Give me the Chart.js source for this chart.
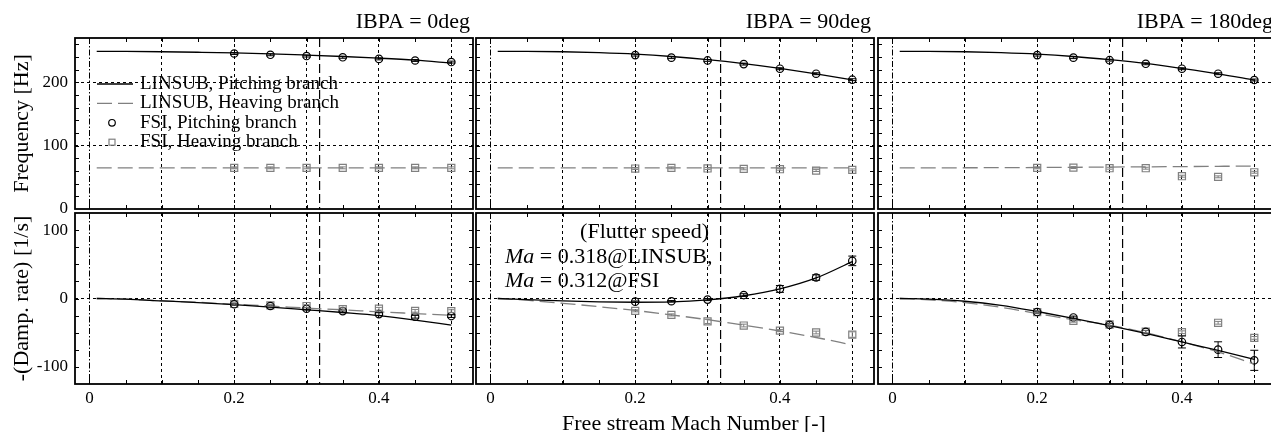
<!DOCTYPE html>
<html>
<head>
<meta charset="utf-8">
<script src="https://cdn.jsdelivr.net/npm/chart.js@4.4.0/dist/chart.umd.min.js"></script>
<style>
  html, body { margin: 0; padding: 0; background: #fff; overflow: hidden; }
  #wrap { position: relative; width: 1271px; height: 432px; overflow: hidden; }
  #wrap canvas { position: absolute; left: 0; top: 0; }
</style>
</head>
<body>
<div id="wrap">
  <canvas id="f0"></canvas>
  <canvas id="f90"></canvas>
  <canvas id="f180"></canvas>
  <canvas id="d0"></canvas>
  <canvas id="d90"></canvas>
  <canvas id="d180"></canvas>
</div>
<script>
// Mach numbers
const machLin = [0.01, 0.05, 0.1, 0.15, 0.2, 0.25, 0.3, 0.35, 0.4, 0.45, 0.5];
const machFsi = [0.2, 0.25, 0.3, 0.35, 0.4, 0.45, 0.5];
const flutterMach = 0.318;

// ticks
const xTicks = [0, 0.1, 0.2, 0.3, 0.4, 0.5];
const xTickLabels = ['0', '', '0.2', '', '0.4', ''];
const xMinor = [0, 0.05, 0.1, 0.15, 0.2, 0.25, 0.3, 0.35, 0.4, 0.45, 0.5];
const freqTicks = [0, 100, 200];
const freqTickLabels = ['0', '100', '200'];
const freqMinor = [20, 40, 60, 80, 100, 120, 140, 160, 180, 200, 220, 240, 260];
const dampTicks = [-100, 0, 100];
const dampTickLabels = ['-100', '0', '100'];
const dampMinor = [-100, -75, -50, -25, 0, 25, 50, 75, 100];

const ibpaTitles = ['IBPA = 0deg', 'IBPA = 90deg', 'IBPA = 180deg'];
const seriesNames = ['LINSUB, Pitching branch', 'LINSUB, Heaving branch', 'FSI, Pitching branch', 'FSI, Heaving branch'];

// Frequency [Hz]
const freqLinPitch0 = [249, 248.8, 248.3, 247.5, 246.5, 245, 243, 240.8, 238.2, 235, 230.5];
const freqLinHeave0 = [65, 65, 65, 65, 65, 65, 65, 65, 65, 65, 65];
const freqFsiPitch0 = [245.5, 243.5, 241.5, 239.5, 237, 234.5, 232];
const freqFsiHeave0 = [65, 65, 65, 65, 65, 65, 65];

const freqLinPitch90 = [249, 248.9, 248.3, 246.8, 244.5, 240.8, 235.8, 229.5, 222, 213.5, 204];
const freqLinHeave90 = [65, 65, 65, 65, 65, 65, 65, 65, 65, 65, 65];
const freqFsiPitch90 = [243, 239, 234.6, 228.8, 221.5, 213.6, 204.2];
const freqFsiHeave90 = [63.9, 65, 64, 63.4, 62.8, 60.7, 61.8];

const freqLinPitch180 = [249, 248.9, 248.3, 246.8, 244.5, 240.8, 235.8, 229.8, 222, 213.5, 203.5];
const freqLinHeave180 = [65, 65, 65.1, 65.3, 65.5, 65.8, 66.2, 66.6, 67, 67.4, 67.8];
const freqFsiPitch180 = [243, 239, 235, 229.3, 221.5, 213.6, 203.7];
const freqFsiHeave180 = [65, 65.4, 64.4, 64.4, 51.8, 50.8, 58];

const freqErrPitch = [1.5, 1.5, 1.5, 1.5, 1.5, 1.5, 1.5];
const freqErrHeave = [1.5, 1.5, 1.5, 1.5, 1.5, 1.5, 1.5];

// -(Damp. rate) [1/s]
const dampLinPitch0 = [0, -1, -3.5, -6, -9, -12.5, -16.5, -20.5, -25, -31.5, -39];
const dampLinHeave0 = [0, -1, -3.5, -5.5, -8.5, -11, -14, -16.5, -19.5, -22, -24.5];
const dampFsiPitch0 = [-8.5, -11, -15, -18.4, -22.8, -26.7, -25.7];
const dampFsiHeave0 = [-8, -10, -11, -15.5, -15, -18, -18.4];
const dampErrPitch0 = [1.5, 1.5, 1.5, 1.5, 2, 2, 2];
const dampErrHeave0 = [1.5, 1.5, 2, 2, 2, 2, 2];

const dampLinPitch90 = [0, -1.5, -3.5, -5, -5.5, -5, -2, 4, 14, 30, 54];
const dampLinHeave90 = [0, -2.5, -7, -12, -17.5, -24, -31, -39, -47.5, -57, -68];
const dampFsiPitch90 = [-4.6, -4, -1.6, 5, 14, 30.6, 55];
const dampFsiHeave90 = [-18, -24, -33.5, -39.5, -47, -49.7, -52.7];
const dampErrPitch90 = [1, 1, 1.5, 2, 5, 4, 7];
const dampErrHeave90 = [1.5, 1.5, 3, 2, 1.5, 2, 4];

const dampLinPitch180 = [0, -1, -4, -10, -19, -29, -39.5, -51, -63.5, -76, -89];
const dampLinHeave180 = [0, -2, -6, -13, -22, -31, -39, -50, -63.5, -78, -96];
const dampFsiPitch180 = [-19.8, -27.7, -38.5, -48.8, -63.5, -74.8, -90.4];
const dampFsiHeave180 = [-19.8, -32.6, -38, -48.5, -49.3, -35.5, -57.6];
const dampErrPitch180 = [1.5, 2, 2, 2, 8.8, 11.5, 14.7];
const dampErrHeave180 = [1.5, 2, 2, 2, 2, 2, 2];

// layout of the 2x3 grid
const W = 1290, H = 432;
const colLeft = [75, 476, 878];
const colRight = [473, 874, 1276];
const rowTop = [38, 213];
const rowBottom = [209, 384];
const Y_W = 66, X_H = 30;

Chart.defaults.font.family = '"Liberation Serif", "Times New Roman", serif';
Chart.defaults.color = '#000';

const serif = (size, style) => (style ? style + ' ' : '') + size + 'px "Liberation Serif", "Times New Roman", serif';
const pts = (xs, ys) => xs.map((x, i) => ({ x: x, y: ys[i] }));

const panelDecor = {
  id: 'panel',
  beforeDatasetsDraw(chart) {
    // flutter Mach line
    const { ctx, chartArea: a, scales: { x } } = chart;
    const fx = x.getPixelForValue(flutterMach);
    ctx.save();
    ctx.strokeStyle = '#000';
    ctx.lineWidth = 1.2;
    ctx.setLineDash([9, 4]);
    ctx.beginPath();
    ctx.moveTo(fx, a.top);
    ctx.lineTo(fx, a.bottom);
    ctx.stroke();
    ctx.restore();
  },
  afterDatasetsDraw(chart) {
    // error bars
    const { ctx, scales: { x, y } } = chart;
    chart.data.datasets.forEach(ds => {
      if (!ds.errors) return;
      ctx.save();
      ctx.strokeStyle = ds.borderColor;
      ctx.lineWidth = 1;
      ds.data.forEach((p, i) => {
        const e = ds.errors[i];
        const px = x.getPixelForValue(p.x);
        const y1 = y.getPixelForValue(p.y - e);
        const y2 = y.getPixelForValue(p.y + e);
        const cw = ds.capWidth;
        ctx.beginPath();
        ctx.moveTo(px, y1); ctx.lineTo(px, y2);
        ctx.moveTo(px - cw, y1); ctx.lineTo(px + cw, y1);
        ctx.moveTo(px - cw, y2); ctx.lineTo(px + cw, y2);
        ctx.stroke();
      });
      ctx.restore();
    });
  },
  afterDraw(chart, args, opts) {
    const { ctx, chartArea: a, scales: { x, y } } = chart;
    ctx.save();
    // frame
    ctx.strokeStyle = '#000';
    ctx.lineWidth = 1.8;
    ctx.strokeRect(a.left, a.top, a.right - a.left, a.bottom - a.top);
    // inward minor ticks
    ctx.lineWidth = 1;
    ctx.beginPath();
    xMinor.forEach(v => {
      const px = Math.round(x.getPixelForValue(v)) + 0.5;
      ctx.moveTo(px, a.top); ctx.lineTo(px, a.top + 4);
      ctx.moveTo(px, a.bottom); ctx.lineTo(px, a.bottom - 4);
    });
    opts.yMinor.forEach(v => {
      const py = Math.round(y.getPixelForValue(v)) + 0.5;
      ctx.moveTo(a.left, py); ctx.lineTo(a.left + 4, py);
      ctx.moveTo(a.right, py); ctx.lineTo(a.right - 4, py);
    });
    ctx.stroke();

    ctx.fillStyle = '#000';
    if (opts.title) {
      ctx.font = serif(22);
      ctx.textAlign = 'right';
      ctx.textBaseline = 'alphabetic';
      ctx.fillText(opts.title, a.right - 3, a.top - 10);
    }
    if (opts.legend) {
      const ds = chart.data.datasets;
      const sx = a.left + 22, ex = a.left + 58, mx = a.left + 37, tx = a.left + 65;
      ctx.font = serif(19);
      ctx.textAlign = 'left';
      ctx.textBaseline = 'middle';
      ds.forEach((d, i) => {
        const ry = a.top + 46 + i * 19.4;
        ctx.strokeStyle = d.borderColor;
        ctx.lineWidth = d.borderWidth;
        if (d.showLine) {
          ctx.setLineDash(d.borderDash || []);
          ctx.beginPath(); ctx.moveTo(sx, ry); ctx.lineTo(ex, ry); ctx.stroke();
          ctx.setLineDash([]);
        } else if (d.pointStyle === 'circle') {
          ctx.beginPath(); ctx.arc(mx, ry, 3.3, 0, Math.PI * 2); ctx.stroke();
        } else {
          ctx.strokeRect(mx - 3, ry - 3, 6, 6);
        }
        ctx.fillStyle = '#000';
        ctx.fillText(seriesNames[i], tx, ry);
      });
    }
    if (opts.note) {
      ctx.font = serif(22);
      ctx.textBaseline = 'middle';
      ctx.textAlign = 'right';
      ctx.fillText('(Flutter speed)', a.left + 233, a.top + 19);
      ctx.textAlign = 'left';
      const lines = [' = 0.318@LINSUB,', ' = 0.312@FSI'];
      lines.forEach((t, i) => {
        const ly = a.top + 44 + i * 24;
        ctx.font = serif(22, 'italic');
        ctx.fillText('Ma', a.left + 29, ly);
        const w = ctx.measureText('Ma').width;
        ctx.font = serif(22);
        ctx.fillText(t, a.left + 29 + w, ly);
      });
    }
    if (opts.xTitle) {
      ctx.font = serif(22);
      ctx.textAlign = 'center';
      ctx.textBaseline = 'middle';
      ctx.fillText(opts.xTitle, a.left + 218, a.bottom + 40);
    }
    ctx.restore();
  }
};

function makePanel(id, col, row, s) {
  const isFreq = row === 0;
  const yTicks = isFreq ? freqTicks : dampTicks;
  const yLabels = isFreq ? freqTickLabels : dampTickLabels;
  const canvas = document.getElementById(id);
  canvas.width = W;
  canvas.height = H;
  return new Chart(canvas, {
    type: 'scatter',
    data: {
      datasets: [
        { label: seriesNames[0], data: pts(machLin, s.linPitch), showLine: true, borderColor: '#000', borderWidth: 1.3, pointRadius: 0, cubicInterpolationMode: 'monotone' },
        { label: seriesNames[1], data: pts(machLin, s.linHeave), showLine: true, borderColor: '#808080', borderWidth: 1.3, borderDash: [15, 6], pointRadius: 0, cubicInterpolationMode: 'monotone' },
        { label: seriesNames[2], data: pts(machFsi, s.fsiPitch), showLine: false, pointStyle: 'circle', pointRadius: 3.7, borderColor: '#000', backgroundColor: 'rgba(0,0,0,0)', borderWidth: 1.2, errors: s.errPitch, capWidth: 4 },
        { label: seriesNames[3], data: pts(machFsi, s.fsiHeave), showLine: false, pointStyle: 'rect', pointRadius: 5, borderColor: '#808080', backgroundColor: 'rgba(0,0,0,0)', borderWidth: 1.2, errors: s.errHeave, capWidth: 3 }
      ]
    },
    options: {
      responsive: false,
      animation: false,
      events: [],
      layout: { padding: { left: colLeft[col] - Y_W, right: W - colRight[col], top: rowTop[row], bottom: H - rowBottom[row] - X_H } },
      plugins: {
        legend: { display: false },
        tooltip: { enabled: false },
        panel: {
          yMinor: isFreq ? freqMinor : dampMinor,
          title: isFreq ? ibpaTitles[col] : null,
          legend: isFreq && col === 0,
          note: !isFreq && col === 1,
          xTitle: (!isFreq && col === 1) ? 'Free stream Mach Number [-]' : null
        }
      },
      scales: {
        x: {
          type: 'linear', min: -0.02, max: 0.53,
          afterBuildTicks: sc => { sc.ticks = xTicks.map(v => ({ value: v })); },
          afterFit: sc => { sc.height = X_H; },
          ticks: { display: !isFreq, autoSkip: false, maxRotation: 0, padding: 4, font: { size: 17 }, color: '#000', callback: (v, i) => xTickLabels[i] },
          grid: { color: '#000', lineWidth: 1, drawTicks: false },
          border: { display: false, dash: c => (c.tick && c.tick.value === 0) ? [6, 2, 1.5, 2] : [3, 3] }
        },
        y: {
          type: 'linear', min: isFreq ? 0 : -125, max: isFreq ? 270 : 125,
          afterBuildTicks: sc => { sc.ticks = yTicks.map(v => ({ value: v })); },
          afterFit: sc => { sc.width = Y_W; },
          ticks: { display: col === 0, padding: 7, font: { size: 17 }, color: '#000', callback: (v, i) => yLabels[i] },
          grid: {
            lineWidth: 1, drawTicks: false,
            color: c => {
              if (!c.tick) return 'rgba(0,0,0,0)';
              const show = isFreq ? c.tick.value > 0 : c.tick.value === 0;
              return show ? '#000' : 'rgba(0,0,0,0)';
            }
          },
          border: { display: false, dash: [3, 3] },
          title: { display: col === 0, text: isFreq ? 'Frequency [Hz]' : '-(Damp. rate) [1/s]', font: { size: 22 }, color: '#000', padding: 0 }
        }
      }
    },
    plugins: [panelDecor]
  });
}

makePanel('f0', 0, 0, { linPitch: freqLinPitch0, linHeave: freqLinHeave0, fsiPitch: freqFsiPitch0, fsiHeave: freqFsiHeave0, errPitch: freqErrPitch, errHeave: freqErrHeave });
makePanel('f90', 1, 0, { linPitch: freqLinPitch90, linHeave: freqLinHeave90, fsiPitch: freqFsiPitch90, fsiHeave: freqFsiHeave90, errPitch: freqErrPitch, errHeave: freqErrHeave });
makePanel('f180', 2, 0, { linPitch: freqLinPitch180, linHeave: freqLinHeave180, fsiPitch: freqFsiPitch180, fsiHeave: freqFsiHeave180, errPitch: freqErrPitch, errHeave: freqErrHeave });
makePanel('d0', 0, 1, { linPitch: dampLinPitch0, linHeave: dampLinHeave0, fsiPitch: dampFsiPitch0, fsiHeave: dampFsiHeave0, errPitch: dampErrPitch0, errHeave: dampErrHeave0 });
makePanel('d90', 1, 1, { linPitch: dampLinPitch90, linHeave: dampLinHeave90, fsiPitch: dampFsiPitch90, fsiHeave: dampFsiHeave90, errPitch: dampErrPitch90, errHeave: dampErrHeave90 });
makePanel('d180', 2, 1, { linPitch: dampLinPitch180, linHeave: dampLinHeave180, fsiPitch: dampFsiPitch180, fsiHeave: dampFsiHeave180, errPitch: dampErrPitch180, errHeave: dampErrHeave180 });
</script>
</body>
</html>
